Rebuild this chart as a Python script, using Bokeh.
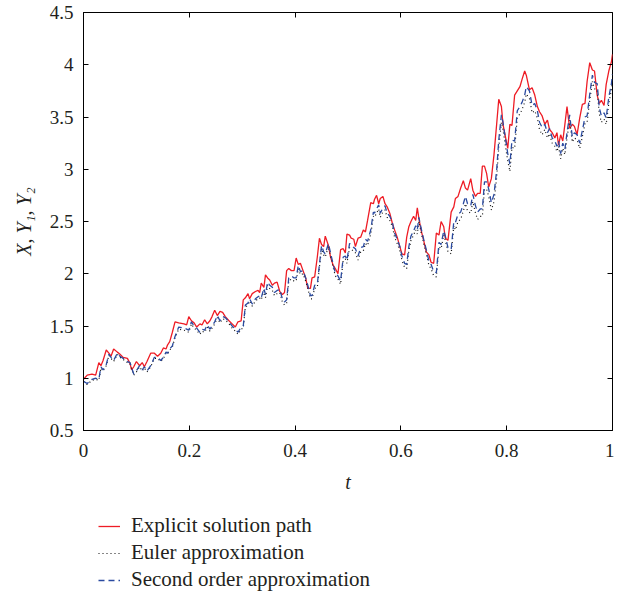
from bokeh.plotting import figure
from bokeh.layouts import column
from bokeh.models import Legend, LegendItem, LinearAxis, FixedTicker, Range1d
from bokeh.embed import file_html
from bokeh.resources import INLINE

t = [0.000, 0.007, 0.016, 0.023, 0.029, 0.033, 0.037, 0.043, 0.048, 0.052,
     0.057, 0.064, 0.069, 0.075, 0.083, 0.088, 0.091, 0.095, 0.100, 0.106,
     0.111, 0.115, 0.120, 0.127, 0.134, 0.140, 0.146, 0.151, 0.156, 0.159,
     0.163, 0.168, 0.173, 0.180, 0.190, 0.195, 0.199, 0.204, 0.209, 0.214,
     0.220, 0.224, 0.229, 0.234, 0.239, 0.243, 0.248, 0.253, 0.258, 0.263,
     0.268, 0.275, 0.281, 0.287, 0.292, 0.298, 0.302, 0.306, 0.311, 0.314,
     0.319, 0.325, 0.330, 0.333, 0.336, 0.341, 0.344, 0.348, 0.352, 0.357,
     0.361, 0.366, 0.371, 0.376, 0.380, 0.384, 0.388, 0.393, 0.398, 0.402,
     0.406, 0.410, 0.415, 0.420, 0.424, 0.429, 0.432, 0.437, 0.442, 0.446,
     0.450, 0.454, 0.457, 0.463, 0.467, 0.472, 0.476, 0.481, 0.486, 0.491,
     0.495, 0.498, 0.503, 0.506, 0.511, 0.514, 0.519, 0.524, 0.529, 0.533,
     0.537, 0.543, 0.548, 0.550, 0.554, 0.558, 0.561, 0.566, 0.570, 0.574,
     0.579, 0.584, 0.588, 0.593, 0.598, 0.602, 0.607, 0.611, 0.615, 0.619,
     0.624, 0.628, 0.631, 0.634, 0.638, 0.643, 0.648, 0.653, 0.657, 0.662,
     0.667, 0.672, 0.676, 0.681, 0.684, 0.689, 0.695, 0.700, 0.703, 0.708,
     0.713, 0.718, 0.722, 0.726, 0.732, 0.736, 0.741, 0.745, 0.750, 0.754,
     0.758, 0.762, 0.766, 0.771, 0.776, 0.781, 0.785, 0.790, 0.793, 0.798,
     0.802, 0.806, 0.810, 0.815, 0.820, 0.825, 0.829, 0.834, 0.837, 0.843,
     0.848, 0.853, 0.858, 0.862, 0.867, 0.872, 0.877, 0.881, 0.886, 0.891,
     0.895, 0.898, 0.902, 0.906, 0.910, 0.914, 0.919, 0.924, 0.928, 0.933,
     0.938, 0.943, 0.948, 0.952, 0.957, 0.962, 0.966, 0.971, 0.975, 0.979,
     0.984, 0.988, 0.993, 0.998, 1.000]

explicit = [0.99, 1.03, 1.04, 1.03, 1.15, 1.12, 1.17, 1.27, 1.24, 1.21,
            1.28, 1.25, 1.23, 1.20, 1.19, 1.14, 1.08, 1.11, 1.16, 1.12,
            1.15, 1.11, 1.16, 1.24, 1.24, 1.21, 1.24, 1.29, 1.28, 1.32,
            1.35, 1.44, 1.54, 1.53, 1.52, 1.51, 1.59, 1.55, 1.53, 1.49,
            1.52, 1.51, 1.56, 1.52, 1.55, 1.59, 1.65, 1.60, 1.64, 1.63,
            1.59, 1.55, 1.52, 1.49, 1.54, 1.55, 1.75, 1.77, 1.81, 1.76,
            1.81, 1.83, 1.84, 1.82, 1.91, 1.87, 1.99, 1.96, 1.94, 1.89,
            1.91, 1.92, 1.83, 1.80, 1.82, 2.03, 2.05, 2.03, 2.03, 2.15,
            2.09, 2.10, 2.03, 1.96, 1.86, 1.86, 1.96, 1.97, 2.16, 2.34,
            2.28, 2.26, 2.36, 2.27, 2.16, 2.08, 2.05, 2.00, 2.23, 2.24,
            2.20, 2.38, 2.37, 2.34, 2.33, 2.26, 2.34, 2.35, 2.42, 2.40,
            2.51, 2.68, 2.67, 2.71, 2.75, 2.67, 2.72, 2.74, 2.67, 2.64,
            2.58, 2.48, 2.42, 2.35, 2.26, 2.19, 2.18, 2.35, 2.45, 2.50,
            2.55, 2.51, 2.63, 2.53, 2.42, 2.32, 2.21, 2.18, 2.11, 2.10,
            2.39, 2.37, 2.50, 2.45, 2.34, 2.32, 2.59, 2.64, 2.72, 2.74,
            2.82, 2.89, 2.82, 2.80, 2.91, 2.80, 2.74, 2.77, 2.77, 3.03,
            3.03, 2.96, 2.83, 2.91, 3.14, 3.43, 3.67, 3.60, 3.43, 3.30,
            3.20, 3.43, 3.42, 3.71, 3.75, 3.79, 3.86, 3.94, 3.90, 3.76,
            3.78, 3.71, 3.60, 3.55, 3.51, 3.43, 3.47, 3.38, 3.35, 3.30,
            3.35, 3.23, 3.33, 3.27, 3.43, 3.60, 3.39, 3.43, 3.41, 3.33,
            3.49, 3.62, 3.63, 3.84, 4.02, 3.95, 3.94, 3.71, 3.63, 3.66,
            3.61, 3.81, 3.94, 4.03, 4.10]

euler = [0.97, 0.94, 0.98, 0.99, 0.98, 1.10, 1.07, 1.12, 1.22, 1.19,
         1.16, 1.23, 1.20, 1.18, 1.15, 1.14, 1.09, 1.03, 1.06, 1.11,
         1.07, 1.10, 1.06, 1.11, 1.19, 1.19, 1.16, 1.19, 1.24, 1.23,
         1.27, 1.30, 1.39, 1.47, 1.46, 1.45, 1.44, 1.52, 1.48, 1.46,
         1.42, 1.45, 1.44, 1.49, 1.45, 1.48, 1.52, 1.58, 1.53, 1.57,
         1.56, 1.52, 1.48, 1.45, 1.42, 1.47, 1.48, 1.68, 1.70, 1.74,
         1.69, 1.74, 1.76, 1.77, 1.75, 1.84, 1.77, 1.89, 1.86, 1.84,
         1.79, 1.81, 1.82, 1.73, 1.70, 1.72, 1.93, 1.95, 1.93, 1.93,
         2.05, 1.99, 2.00, 1.93, 1.86, 1.76, 1.76, 1.86, 1.87, 2.06,
         2.24, 2.18, 2.16, 2.26, 2.17, 2.06, 1.98, 1.95, 1.90, 2.13,
         2.14, 2.10, 2.25, 2.24, 2.21, 2.20, 2.13, 2.21, 2.22, 2.29,
         2.27, 2.38, 2.55, 2.54, 2.58, 2.62, 2.54, 2.59, 2.61, 2.54,
         2.51, 2.45, 2.35, 2.29, 2.22, 2.13, 2.06, 2.05, 2.22, 2.32,
         2.37, 2.42, 2.38, 2.50, 2.40, 2.29, 2.19, 2.08, 2.05, 1.98,
         1.97, 2.26, 2.24, 2.37, 2.32, 2.21, 2.19, 2.46, 2.42, 2.50,
         2.52, 2.60, 2.67, 2.60, 2.58, 2.69, 2.58, 2.52, 2.55, 2.55,
         2.81, 2.81, 2.74, 2.61, 2.69, 2.92, 3.21, 3.45, 3.38, 3.21,
         3.08, 2.98, 3.21, 3.20, 3.49, 3.53, 3.57, 3.64, 3.72, 3.68,
         3.54, 3.56, 3.49, 3.38, 3.33, 3.38, 3.30, 3.34, 3.25, 3.22,
         3.17, 3.22, 3.10, 3.20, 3.14, 3.30, 3.47, 3.26, 3.30, 3.28,
         3.20, 3.31, 3.44, 3.45, 3.66, 3.84, 3.77, 3.76, 3.53, 3.45,
         3.48, 3.43, 3.63, 3.76, 3.85]

second = [0.97, 0.95, 0.99, 1.00, 0.99, 1.11, 1.08, 1.13, 1.23, 1.20,
          1.17, 1.24, 1.21, 1.19, 1.16, 1.15, 1.10, 1.04, 1.07, 1.12,
          1.08, 1.11, 1.07, 1.12, 1.20, 1.20, 1.17, 1.20, 1.25, 1.24,
          1.28, 1.31, 1.40, 1.49, 1.48, 1.47, 1.46, 1.54, 1.50, 1.48,
          1.44, 1.47, 1.46, 1.51, 1.47, 1.50, 1.54, 1.60, 1.55, 1.59,
          1.58, 1.54, 1.50, 1.47, 1.44, 1.49, 1.50, 1.70, 1.72, 1.76,
          1.71, 1.76, 1.78, 1.79, 1.77, 1.86, 1.80, 1.92, 1.89, 1.87,
          1.82, 1.84, 1.85, 1.76, 1.73, 1.75, 1.96, 1.98, 1.96, 1.96,
          2.08, 2.02, 2.03, 1.96, 1.89, 1.79, 1.79, 1.89, 1.90, 2.09,
          2.27, 2.21, 2.19, 2.29, 2.20, 2.09, 2.01, 1.98, 1.93, 2.16,
          2.17, 2.13, 2.29, 2.28, 2.25, 2.24, 2.17, 2.25, 2.26, 2.33,
          2.31, 2.42, 2.59, 2.58, 2.62, 2.66, 2.58, 2.63, 2.65, 2.58,
          2.55, 2.49, 2.39, 2.33, 2.26, 2.17, 2.10, 2.09, 2.26, 2.36,
          2.41, 2.46, 2.42, 2.54, 2.44, 2.33, 2.23, 2.12, 2.09, 2.02,
          2.01, 2.30, 2.28, 2.41, 2.36, 2.25, 2.23, 2.50, 2.49, 2.57,
          2.59, 2.67, 2.74, 2.67, 2.65, 2.76, 2.65, 2.59, 2.62, 2.62,
          2.88, 2.88, 2.81, 2.68, 2.76, 2.99, 3.28, 3.52, 3.45, 3.28,
          3.15, 3.05, 3.28, 3.27, 3.56, 3.60, 3.64, 3.71, 3.79, 3.75,
          3.61, 3.63, 3.56, 3.45, 3.40, 3.43, 3.35, 3.39, 3.30, 3.27,
          3.22, 3.27, 3.15, 3.25, 3.19, 3.35, 3.52, 3.31, 3.35, 3.33,
          3.25, 3.37, 3.50, 3.51, 3.72, 3.90, 3.83, 3.82, 3.59, 3.51,
          3.54, 3.49, 3.69, 3.82, 3.91]

x_ticks = [0.0, 0.2, 0.4, 0.6, 0.8, 1.0]
x_tick_labels = ["0", "0.2", "0.4", "0.6", "0.8", "1"]
y_ticks = [0.5, 1.0, 1.5, 2.0, 2.5, 3.0, 3.5, 4.0, 4.5]
y_tick_labels = ["0.5", "1", "1.5", "2", "2.5", "3", "3.5", "4", "4.5"]

series_labels = ["Explicit solution path", "Euler approximation",
                 "Second order approximation"]

FONT = "Liberation Serif"
TXT = "#231f20"
RED = "#ee1c25"
BLUE = "#2a4aa0"
BLACK = "#111111"

p = figure(width=614, height=500,
           x_range=Range1d(0, 1), y_range=Range1d(0.5, 4.5),
           output_backend="svg", toolbar_location=None,
           min_border_left=83, min_border_right=2, min_border_top=12,
           min_border_bottom=70, background_fill_color="white",
           border_fill_color="white")

p.xgrid.grid_line_color = None
p.ygrid.grid_line_color = None
p.outline_line_color = "black"
p.outline_line_width = 1

for ax, ticks, labels in ((p.xaxis[0], x_ticks, x_tick_labels),
                          (p.yaxis[0], y_ticks, y_tick_labels)):
    ax.ticker = FixedTicker(ticks=ticks)
    ax.major_label_overrides = {tk: lb for tk, lb in zip(ticks, labels)}
    ax.major_tick_in = 5
    ax.major_tick_out = 0
    ax.minor_tick_line_color = None
    ax.axis_line_color = "black"
    ax.major_tick_line_color = "black"
    ax.major_label_text_font = FONT
    ax.major_label_text_font_size = "19px"
    ax.major_label_text_color = TXT
    ax.axis_label_text_font = FONT
    ax.axis_label_text_font_size = "20px"
    ax.axis_label_text_font_style = "italic"
    ax.axis_label_text_color = TXT

p.xaxis.axis_label = "t"
p.xaxis.major_label_standoff = 13
p.xaxis.axis_label_standoff = 11
p.yaxis.axis_label = "X, Y\u2081, Y\u2082"
p.yaxis.major_label_standoff = 10
p.yaxis.axis_label_standoff = 12

for side, ticks in (("above", x_ticks), ("right", y_ticks)):
    ax = LinearAxis(ticker=FixedTicker(ticks=ticks))
    ax.major_tick_in = 5
    ax.major_tick_out = 0
    ax.minor_tick_line_color = None
    ax.axis_line_color = None
    ax.major_tick_line_color = "black"
    ax.major_label_text_font_size = "1px"
    ax.major_label_text_color = None
    ax.major_label_standoff = 0
    p.add_layout(ax, side)

line_styles = [dict(line_color=RED, line_width=1.3),
               dict(line_color=BLACK, line_width=1.2, line_dash="1 3"),
               dict(line_color=BLUE, line_width=1.3, line_dash="6 4")]

p.line(t, explicit, **line_styles[0])
p.line(t, euler, **line_styles[1])
p.line(t, second, **line_styles[2])

# legend panel below the chart (legend-only renderers hold one NaN point)
q = figure(width=614, height=92, x_range=Range1d(0, 1), y_range=Range1d(0, 1),
           output_backend="svg", toolbar_location=None,
           x_axis_type=None, y_axis_type=None,
           min_border_left=0, min_border_right=0, min_border_top=0,
           min_border_bottom=0, outline_line_color=None,
           background_fill_color="white", border_fill_color="white")
q.xgrid.grid_line_color = None
q.ygrid.grid_line_color = None

items = []
for lab, style in zip(series_labels, line_styles):
    r = q.line([float("nan")], [float("nan")], **style)
    items.append(LegendItem(label=lab, renderers=[r]))

legend = Legend(items=items, location=(15, 0), orientation="vertical",
                border_line_color=None, background_fill_alpha=0,
                label_text_font=FONT, label_text_font_size="21px",
                label_text_color=TXT,
                glyph_width=22, glyph_height=20, label_height=20,
                label_standoff=11, spacing=2, padding=0, margin=0)
q.add_layout(legend)

layout = column(p, q, spacing=0)
open("out.html", "w").write(file_html(layout, INLINE))
